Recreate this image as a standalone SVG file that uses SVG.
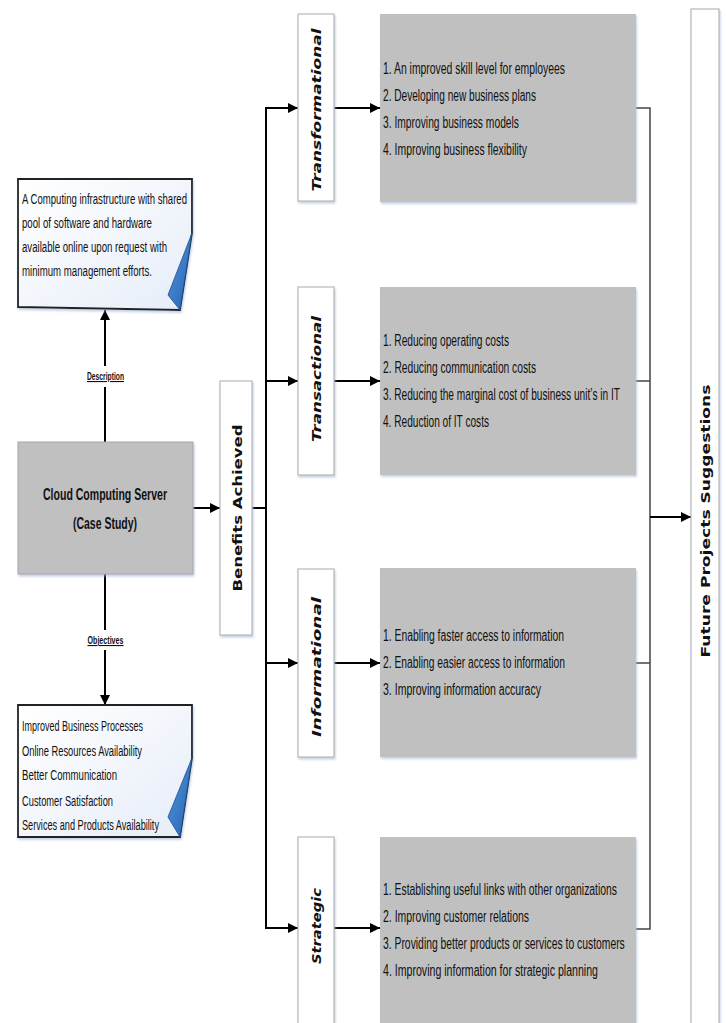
<svg xmlns="http://www.w3.org/2000/svg" width="726" height="1023" viewBox="0 0 726 1023">
<defs>
<marker id="ah" viewBox="0 0 10 10" refX="10" refY="5" markerWidth="10" markerHeight="10" markerUnits="userSpaceOnUse" orient="auto"><path d="M0,0 L10,5 L0,10 z" fill="#000"/></marker>
<linearGradient id="note" x1="0" y1="0" x2="1" y2="1"><stop offset="0" stop-color="#ffffff"/><stop offset="1" stop-color="#e6edf8"/></linearGradient>
<linearGradient id="fold" x1="0" y1="0" x2="1" y2="1"><stop offset="0" stop-color="#5b9be0"/><stop offset="1" stop-color="#1f5fb0"/></linearGradient>
<filter id="sh" x="-10%" y="-10%" width="130%" height="130%"><feDropShadow dx="1" dy="2" stdDeviation="1.2" flood-color="#9fb4d6" flood-opacity="0.6"/></filter>
</defs>
<style>
.t{font-family:"Liberation Sans Narrow","Liberation Sans",Arial,sans-serif;font-size:16px;fill:#111}
.s{font-family:"Liberation Sans Narrow","Liberation Sans",Arial,sans-serif;font-size:14px;fill:#111}
.lbl{font-family:"Liberation Sans Narrow","Liberation Sans",Arial,sans-serif;font-size:11px;font-weight:bold;fill:#111;text-decoration:underline}
.cat{font-family:"DejaVu Sans",Verdana,sans-serif;font-size:12px;font-weight:bold;font-style:italic;fill:#111}
.v{font-family:"DejaVu Sans",Verdana,sans-serif;font-size:12px;font-weight:bold;fill:#111}
.gbox{fill:#c0c0c0;filter:url(#sh)}
.wbox{fill:#fff;stroke:#b8b8b8;stroke-width:1.2;filter:url(#sh)}
.c{stroke:#000;stroke-width:2;fill:none}
.c2{stroke:#444;stroke-width:1.5;fill:none}
</style>
<rect width="726" height="1023" fill="#fff"/>

<g id="connectors">
<line class="c" x1="105" y1="442" x2="105" y2="387"/>
<line class="c" x1="105" y1="366" x2="105" y2="310" marker-end="url(#ah)"/>
<line class="c" x1="105" y1="574" x2="105" y2="630"/>
<line class="c" x1="105" y1="650" x2="105" y2="705" marker-end="url(#ah)"/>
<line class="c" x1="193" y1="508" x2="220" y2="508" marker-end="url(#ah)"/>
<line class="c" x1="252" y1="508" x2="266" y2="508"/>
<line class="c" x1="266" y1="107" x2="266" y2="929"/>
<line class="c" x1="265" y1="108" x2="298" y2="108" marker-end="url(#ah)"/>
<line class="c" x1="265" y1="381" x2="298" y2="381" marker-end="url(#ah)"/>
<line class="c" x1="265" y1="663" x2="298" y2="663" marker-end="url(#ah)"/>
<line class="c" x1="265" y1="928" x2="298" y2="928" marker-end="url(#ah)"/>
<line class="c" x1="334" y1="108" x2="380" y2="108" marker-end="url(#ah)"/>
<line class="c" x1="334" y1="381" x2="380" y2="381" marker-end="url(#ah)"/>
<line class="c" x1="334" y1="663" x2="380" y2="663" marker-end="url(#ah)"/>
<line class="c" x1="334" y1="928" x2="380" y2="928" marker-end="url(#ah)"/>
<polyline class="c2" points="636,108 650,108 650,929 636,929"/>
<line class="c2" x1="636" y1="381" x2="650" y2="381"/>
<line class="c2" x1="636" y1="663" x2="650" y2="663"/>
<line class="c" x1="650" y1="517" x2="691" y2="517" marker-end="url(#ah)"/>
<text class="lbl" x="105.5" y="380" text-anchor="middle" textLength="37" lengthAdjust="spacingAndGlyphs">Description</text>
<text class="lbl" x="105.5" y="644" text-anchor="middle" textLength="36" lengthAdjust="spacingAndGlyphs">Objectives</text>
</g>

<g id="description">
<path d="M18,179 L192,179 L192,233 L180,310 L18,307 Z" fill="url(#note)" stroke="#222" stroke-width="1.8" filter="url(#sh)"/>
<path d="M192,233 L168,295 L180,310 Z" fill="url(#fold)" stroke="#1d4f8f" stroke-width="0.8"/>
<text class="s" x="22" y="204" textLength="165" lengthAdjust="spacingAndGlyphs">A Computing infrastructure with shared</text>
<text class="s" x="22" y="228" textLength="130" lengthAdjust="spacingAndGlyphs">pool of software and hardware</text>
<text class="s" x="22" y="252" textLength="145" lengthAdjust="spacingAndGlyphs">available online upon request with</text>
<text class="s" x="22" y="276" textLength="130" lengthAdjust="spacingAndGlyphs">minimum management efforts.</text>
</g>

<g id="cloud">
<rect x="18" y="442" width="175" height="132" fill="#c0c0c0" stroke="#a8a8a8" stroke-width="1" filter="url(#sh)"/>
<text class="t" x="105" y="500" text-anchor="middle" font-weight="bold" font-size="17" textLength="124" lengthAdjust="spacingAndGlyphs">Cloud Computing Server</text>
<text class="t" x="105" y="529" text-anchor="middle" font-weight="bold" font-size="17" textLength="64" lengthAdjust="spacingAndGlyphs">(Case Study)</text>
</g>

<g id="objectives">
<path d="M18,705 L192,705 L192,758 L180,837 L18,837 Z" fill="url(#note)" stroke="#222" stroke-width="1.8" filter="url(#sh)"/>
<path d="M192,758 L168,817 L180,837 Z" fill="url(#fold)" stroke="#1d4f8f" stroke-width="0.8"/>
<text class="s" x="22" y="731" textLength="121" lengthAdjust="spacingAndGlyphs">Improved Business Processes</text>
<text class="s" x="22" y="756" textLength="120" lengthAdjust="spacingAndGlyphs">Online Resources Availability</text>
<text class="s" x="22" y="780" textLength="95" lengthAdjust="spacingAndGlyphs">Better Communication</text>
<text class="s" x="22" y="806" textLength="91" lengthAdjust="spacingAndGlyphs">Customer Satisfaction</text>
<text class="s" x="22" y="830" textLength="137" lengthAdjust="spacingAndGlyphs">Services and Products Availability</text>
</g>

<g id="benefits">
<rect class="wbox" x="220" y="381" width="32" height="254"/>
<text class="v" transform="translate(241.5,508) rotate(-90)" text-anchor="middle" font-size="13" textLength="167" lengthAdjust="spacingAndGlyphs">Benefits Achieved</text>
</g>

<g id="transformational">
<rect class="wbox" x="298" y="14" width="36" height="187"/>
<text class="cat" transform="translate(321,110) rotate(-90)" text-anchor="middle" textLength="163" lengthAdjust="spacingAndGlyphs">Transformational</text>
</g>
<g id="transactional">
<rect class="wbox" x="298" y="287" width="36" height="188"/>
<text class="cat" transform="translate(321,379) rotate(-90)" text-anchor="middle" textLength="126" lengthAdjust="spacingAndGlyphs">Transactional</text>
</g>
<g id="informational">
<rect class="wbox" x="298" y="569" width="36" height="188"/>
<text class="cat" transform="translate(321,667) rotate(-90)" text-anchor="middle" textLength="140" lengthAdjust="spacingAndGlyphs">Informational</text>
</g>
<g id="strategic">
<rect class="wbox" x="298" y="837" width="36" height="200"/>
<text class="cat" transform="translate(321,926) rotate(-90)" text-anchor="middle" textLength="76" lengthAdjust="spacingAndGlyphs">Strategic</text>
</g>

<g id="transformational-items">
<rect class="gbox" x="380" y="14" width="256" height="188"/>
<text class="t" x="383" y="74" textLength="182" lengthAdjust="spacingAndGlyphs">1. An improved skill level for employees</text>
<text class="t" x="383" y="101" textLength="153" lengthAdjust="spacingAndGlyphs">2. Developing new business plans</text>
<text class="t" x="383" y="128" textLength="136" lengthAdjust="spacingAndGlyphs">3. Improving business models</text>
<text class="t" x="383" y="155" textLength="144" lengthAdjust="spacingAndGlyphs">4. Improving business flexibility</text>
</g>
<g id="transactional-items">
<rect class="gbox" x="380" y="287" width="256" height="188"/>
<text class="t" x="383" y="346" textLength="126" lengthAdjust="spacingAndGlyphs">1. Reducing operating costs</text>
<text class="t" x="383" y="373" textLength="153" lengthAdjust="spacingAndGlyphs">2. Reducing communication costs</text>
<text class="t" transform="translate(383,400) scale(0.6,1)" textLength="395" lengthAdjust="spacingAndGlyphs">3. Reducing the marginal cost of business unit’s in IT</text>
<text class="t" x="383" y="427" textLength="106" lengthAdjust="spacingAndGlyphs">4. Reduction of IT costs</text>
</g>
<g id="informational-items">
<rect class="gbox" x="380" y="568" width="256" height="189"/>
<text class="t" x="383" y="641" textLength="181" lengthAdjust="spacingAndGlyphs">1. Enabling faster access to information</text>
<text class="t" x="383" y="668" textLength="182" lengthAdjust="spacingAndGlyphs">2. Enabling easier access to information</text>
<text class="t" x="383" y="695" textLength="158" lengthAdjust="spacingAndGlyphs">3. Improving information accuracy</text>
</g>
<g id="strategic-items">
<rect class="gbox" x="380" y="837" width="256" height="200"/>
<text class="t" transform="translate(383,895) scale(0.6,1)" textLength="390" lengthAdjust="spacingAndGlyphs">1. Establishing useful links with other organizations</text>
<text class="t" x="383" y="922" textLength="146" lengthAdjust="spacingAndGlyphs">2. Improving customer relations</text>
<text class="t" transform="translate(383,949) scale(0.6,1)" textLength="403" lengthAdjust="spacingAndGlyphs">3. Providing better products or services to customers</text>
<text class="t" x="383" y="976" textLength="215" lengthAdjust="spacingAndGlyphs">4. Improving information for strategic planning</text>
</g>

<g id="future">
<rect class="wbox" x="691" y="9" width="28" height="1030"/>
<text class="v" transform="translate(709.5,521) rotate(-90)" text-anchor="middle" font-size="13" textLength="273" lengthAdjust="spacingAndGlyphs">Future Projects Suggestions</text>
</g>
</svg>
